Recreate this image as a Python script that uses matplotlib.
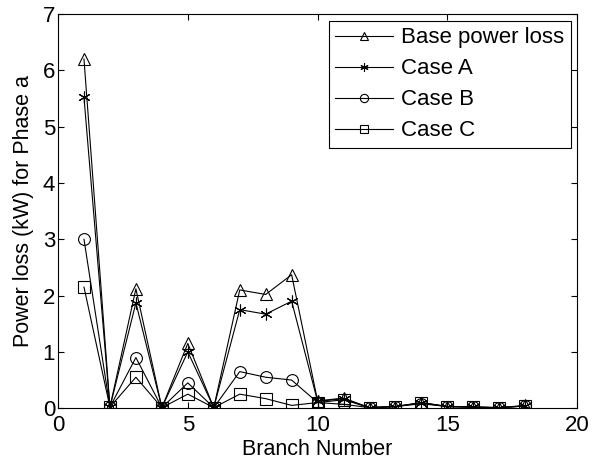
import numpy as np
import matplotlib.pyplot as plt

plt.rcParams['font.family'] = ['Liberation Sans', 'DejaVu Sans']

# Branch numbers and phase-a power loss (kW)
branches = list(range(1, 19))
base_loss = [6.20, 0.02, 2.12, 0.01, 1.15, 0.01, 2.10, 2.02, 2.37,
             0.13, 0.18, 0.01, 0.03, 0.10, 0.03, 0.02, 0.01, 0.05]
case_a = [5.52, 0.02, 1.87, 0.01, 1.00, 0.01, 1.75, 1.67, 1.90,
          0.12, 0.17, 0.01, 0.03, 0.10, 0.03, 0.02, 0.01, 0.04]
case_b = [3.00, 0.02, 0.90, 0.01, 0.45, 0.01, 0.65, 0.55, 0.50,
          0.10, 0.07, 0.01, 0.03, 0.08, 0.03, 0.02, 0.01, 0.04]
case_c = [2.15, 0.02, 0.55, 0.01, 0.25, 0.01, 0.25, 0.17, 0.05,
          0.10, 0.15, 0.01, 0.03, 0.09, 0.03, 0.02, 0.01, 0.04]

fig = plt.figure(figsize=(5.92, 4.66), dpi=100)
ax = fig.add_axes([0.098, 0.124, 0.877, 0.846])

mk = dict(color='black', lw=0.8, markersize=8.5, markerfacecolor='none',
          markeredgewidth=0.8)
ax.plot(branches, base_loss, marker='^', label='Base power loss', **mk)
ax.plot(branches, case_a, marker=(6, 2, 0), label='Case A', **mk)
ax.plot(branches, case_b, marker='o', label='Case B', **mk)
ax.plot(branches, case_c, marker='s', label='Case C', **mk)

ax.set_xlim(0, 20)
ax.set_ylim(0, 7)
ax.set_xticks([0, 5, 10, 15, 20])
ax.set_yticks(range(0, 8))
ax.tick_params(direction='in', top=True, right=True, length=4,
               labelsize=16, pad=2)
ax.tick_params(axis='x', pad=5)
ax.set_xlabel('Branch Number', fontsize=15.5, labelpad=2)
ax.set_ylabel('Power loss (kW) for Phase a', fontsize=15.5, labelpad=6)

leg = ax.legend(loc='upper right', fontsize=16, fancybox=False,
                edgecolor='black', framealpha=1, handlelength=2.6,
                borderaxespad=0.3, labelspacing=0.45, handletextpad=0.35,
                borderpad=0.3, markerscale=0.7)
leg.get_frame().set_linewidth(0.8)

fig.savefig('out.png', dpi=100)
